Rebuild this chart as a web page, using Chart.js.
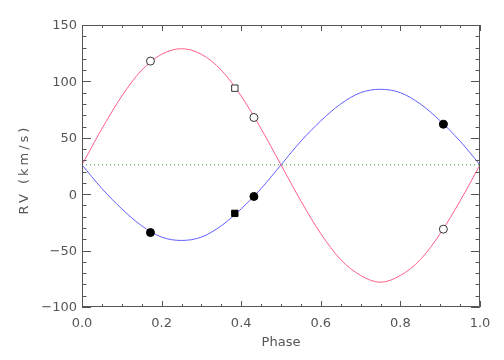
<!DOCTYPE html>
<html>
<head>
<meta charset="utf-8">
<script src="https://cdn.jsdelivr.net/npm/chart.js@4"></script>
<style>
  html, body { margin: 0; padding: 0; background: #fff; }
  #wrap { width: 504px; height: 360px; }
</style>
</head>
<body>
<div id="wrap"><canvas id="rvChart" width="504" height="360"></canvas></div>
<script>
// --- data ---
const phaseGrid = [0, 0.05, 0.1, 0.15, 0.2, 0.25, 0.3, 0.35, 0.4, 0.45, 0.5,
                   0.55, 0.6, 0.65, 0.7, 0.75, 0.8, 0.85, 0.9, 0.95, 1.0];
const primaryCurve = [26, 58, 87, 110, 124, 129, 124, 110, 87, 58, 26,
                      -6, -35, -58, -72, -78, -72, -58, -35, -6, 26];
const secondaryCurve = [26, 5, -13, -28, -38, -41, -38, -28, -13, 5, 26,
                        47, 65, 80, 90, 93, 90, 80, 65, 47, 26];

const obsPhase = [0.172, 0.432, 0.908];
const obsPrimary = [118, 68, -31];
const obsSecondary = [-34, -2, 62];

const sqPhase = [0.384];
const sqPrimary = [94];
const sqSecondary = [-17];

const gammaX = [0, 1];
const gammaY = [26, 26];

const xTicks = [0, 0.2, 0.4, 0.6, 0.8, 1.0];
const yTicks = [-100, -50, 0, 50, 100, 150];

const axisColor = '#555';
const fontFam = '"DejaVu Sans", sans-serif';

const pts = (xs, ys) => xs.map((x, i) => ({ x: x, y: ys[i] }));

// box + inward ticks on all four sides (IDL style), plus spaced y title
const boxPlugin = {
  id: 'boxTicks',
  afterDraw(chart) {
    const { ctx, chartArea: a, scales: { x, y } } = chart;
    ctx.save();
    ctx.strokeStyle = axisColor;
    ctx.lineWidth = 1;
    ctx.beginPath();
    ctx.rect(a.left + 0.5, a.top + 0.5, a.right - a.left - 1, a.bottom - a.top - 1);
    const xl = 6, yl = 9;
    // x ticks: major every 0.2, minor every 0.05
    for (let i = 0; i <= 20; i++) {
      const px = Math.round(x.getPixelForValue(i * 0.05)) + 0.5;
      const len = (i % 4 === 0) ? xl : xl / 2;
      ctx.moveTo(px, a.bottom); ctx.lineTo(px, a.bottom - len);
      ctx.moveTo(px, a.top); ctx.lineTo(px, a.top + len);
    }
    // y ticks: major every 50, minor every 10
    for (let i = 0; i <= 25; i++) {
      const py = Math.round(y.getPixelForValue(-100 + i * 10)) + 0.5;
      const len = (i % 5 === 0) ? yl : yl / 2;
      ctx.moveTo(a.left, py); ctx.lineTo(a.left + len, py);
      ctx.moveTo(a.right, py); ctx.lineTo(a.right - len, py);
    }
    ctx.stroke();

    // y axis title, letter-spaced like the original
    ctx.translate(25, 171);
    ctx.rotate(-Math.PI / 2);
    ctx.letterSpacing = '3px';
    ctx.font = '13px ' + fontFam;
    ctx.fillStyle = axisColor;
    ctx.textAlign = 'center';
    ctx.textBaseline = 'middle';
    ctx.fillText('RV (km/s)', 1.5, 0);
    ctx.restore();
  }
};

const ctx = document.getElementById('rvChart').getContext('2d');
new Chart(ctx, {
  type: 'scatter',
  data: {
    datasets: [
      { data: pts(obsPhase, obsPrimary), pointStyle: 'circle', pointRadius: 4,
        backgroundColor: '#fff', borderColor: '#333', borderWidth: 1, showLine: false },
      { data: pts(sqPhase, sqPrimary), pointStyle: 'rect', pointRadius: 4.5,
        backgroundColor: '#fff', borderColor: '#333', borderWidth: 1, showLine: false },
      { data: pts(obsPhase, obsSecondary), pointStyle: 'circle', pointRadius: 4,
        backgroundColor: '#000', borderColor: '#000', borderWidth: 1, showLine: false },
      { data: pts(sqPhase, sqSecondary), pointStyle: 'rect', pointRadius: 4.5,
        backgroundColor: '#000', borderColor: '#000', borderWidth: 1, showLine: false },
      { data: pts(phaseGrid, primaryCurve), showLine: true, pointRadius: 0,
        borderColor: '#ff5f87', borderWidth: 1, cubicInterpolationMode: 'monotone' },
      { data: pts(phaseGrid, secondaryCurve), showLine: true, pointRadius: 0,
        borderColor: '#5f5fff', borderWidth: 1, cubicInterpolationMode: 'monotone' },
      { data: pts(gammaX, gammaY), showLine: true, pointRadius: 0,
        borderColor: '#2f8f2f', borderWidth: 1, borderDash: [1, 3] }
    ]
  },
  options: {
    responsive: false,
    animation: false,
    events: [],
    layout: { padding: { top: 25, right: 24, left: 0, bottom: 0 } },
    plugins: { legend: { display: false }, tooltip: { enabled: false } },
    scales: {
      x: {
        type: 'linear', min: 0, max: 1,
        afterFit: (s) => { s.height = 53; },
        afterBuildTicks: (s) => { s.ticks = xTicks.map(v => ({ value: v })); },
        grid: { display: false, drawTicks: false },
        border: { display: false },
        ticks: { color: axisColor, padding: 9, font: { family: fontFam, size: 13 },
                 callback: (v) => Number(v).toFixed(1) },
        title: { display: true, text: 'Phase', color: axisColor,
                 font: { family: fontFam, size: 13 }, padding: { bottom: 10 } }
      },
      y: {
        type: 'linear', min: -100, max: 150,
        afterFit: (s) => { s.width = 82; },
        afterBuildTicks: (s) => { s.ticks = yTicks.map(v => ({ value: v })); },
        grid: { display: false, drawTicks: false },
        border: { display: false },
        ticks: { color: axisColor, padding: 5, labelOffset: 1,
                 font: { family: fontFam, size: 13 },
                 callback: (v) => String(v).replace('-', '\u2212') },
        title: { display: false }
      }
    }
  },
  plugins: [boxPlugin]
});
</script>
</body>
</html>
